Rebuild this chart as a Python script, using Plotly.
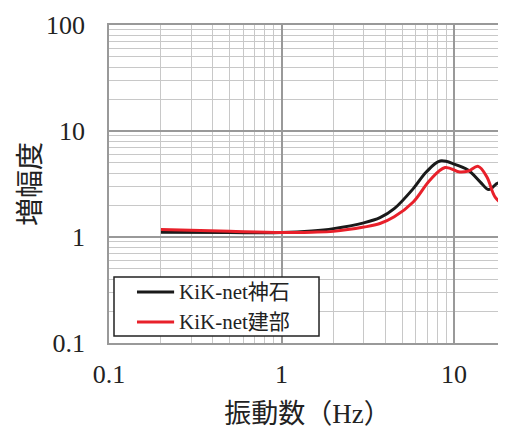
import plotly.graph_objects as go

freq_kobe = [0.2, 0.5, 1.0, 1.5, 2.0, 3.0, 3.72, 4.5, 5.8, 6.9, 8.3, 10.1, 12.1, 14.2, 15.9, 18.1, 20]
amp_kobe = [1.11, 1.10, 1.10, 1.14, 1.2, 1.36, 1.52, 1.85, 2.86, 4.1, 5.21, 4.85, 4.26, 3.30, 2.80, 3.23, 2.76]

freq_tatebe = [0.2, 0.5, 1.0, 1.5, 2.0, 3.0, 3.72, 4.5, 5.8, 7.24, 8.87, 10.8, 12.1, 13.8, 15.5, 17.3, 20]
amp_tatebe = [1.18, 1.13, 1.10, 1.11, 1.13, 1.24, 1.34, 1.55, 2.14, 3.43, 4.52, 4.1, 4.19, 4.64, 3.68, 2.38, 1.92]

series_names = ["KiK-net神石", "KiK-net建部"]
series_colors = ["#1a1a1a", "#e8202a"]

x_ticks = [0.1, 1, 10]
x_labels = ["0.1", "1", "10"]
y_ticks = [0.1, 1, 10, 100]
y_labels = ["0.1", "1", "10", "100"]

FONT = "Liberation Serif, Times New Roman, Noto Sans CJK JP, serif"

fig = go.Figure()
fig.add_trace(go.Scatter(x=freq_kobe, y=amp_kobe, mode="lines", name=series_names[0], showlegend=False,
                         line=dict(color=series_colors[0], width=3, shape="spline", smoothing=1.0)))
fig.add_trace(go.Scatter(x=freq_tatebe, y=amp_tatebe, mode="lines", name=series_names[1], showlegend=False,
                         line=dict(color=series_colors[1], width=3, shape="spline", smoothing=1.0)))

axis_common = dict(
    type="log", automargin=False,
    showgrid=True, gridcolor="#999999", gridwidth=1.5,
    showline=True, linecolor="#999999", linewidth=1.5, mirror=True,
    ticks="", zeroline=False,
    tickfont=dict(family=FONT, size=26, color="#222"),
    minor=dict(showgrid=True, gridcolor="#c8c8c8", gridwidth=1.2, dtick="D1"),
)

# legend box drawn in plot-area (paper) coordinates
legend_box = dict(x0=0.0126, x1=0.529, y0=0.022, y1=0.2075)
legend_rows_y = [0.160, 0.066]
legend_line_x = (0.0705, 0.164)
legend_text_x = 0.172

shapes = [dict(type="rect", xref="paper", yref="paper", layer="above",
               fillcolor="white", line=dict(color="#222", width=1.5), **legend_box)]
annotations = []
for name, color, yy in zip(series_names, series_colors, legend_rows_y):
    shapes.append(dict(type="line", xref="paper", yref="paper", layer="above",
                       x0=legend_line_x[0], x1=legend_line_x[1], y0=yy, y1=yy,
                       line=dict(color=color, width=3)))
    annotations.append(dict(xref="paper", yref="paper", x=legend_text_x, y=yy,
                            xanchor="left", yanchor="middle", showarrow=False, text=name,
                            font=dict(family=FONT, size=21, color="#222")))

# page body has an 8px default margin; figure sized to fit the 506x429 window
fig.update_layout(
    width=498, height=421,
    margin=dict(l=101, r=0, t=17, b=86, autoexpand=False),
    paper_bgcolor="white", plot_bgcolor="white",
    font=dict(family=FONT, color="#222"),
    xaxis=dict(axis_common, range=[-1, 1.30103], tickvals=x_ticks, ticktext=x_labels,
               ticklabelstandoff=7,
               title=dict(text="振動数（Hz）", font=dict(family=FONT, size=27), standoff=24)),
    yaxis=dict(axis_common, range=[-1, 2], tickvals=y_ticks, ticktext=y_labels,
               ticklabelstandoff=17,
               title=dict(text="増幅度", font=dict(family="Noto Sans CJK JP", size=28), standoff=6)),
    shapes=shapes,
    annotations=annotations,
    showlegend=False,
)

fig.write_html("out.html")
